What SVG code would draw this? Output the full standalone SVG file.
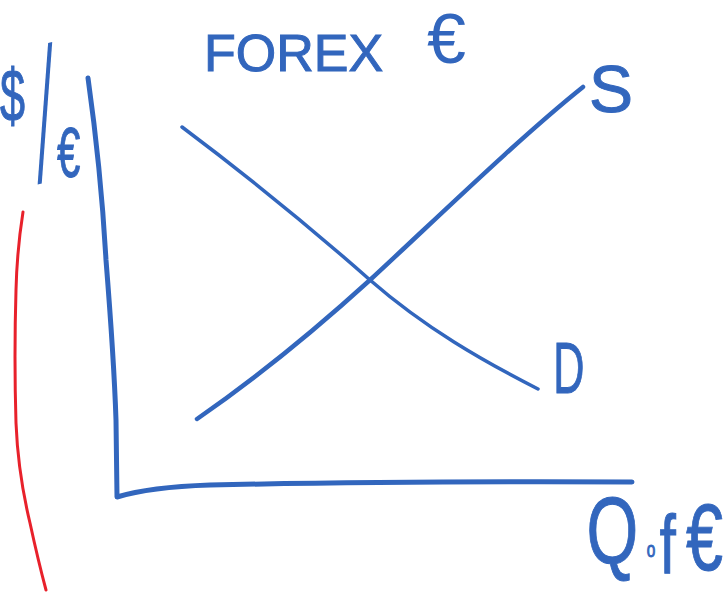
<svg xmlns="http://www.w3.org/2000/svg" width="726" height="592" viewBox="0 0 726 592">
<style>
.ink{fill:none;stroke:#3266bd;stroke-linecap:round;stroke-linejoin:round}
.red{fill:none;stroke:#e8212b;stroke-width:3;stroke-linecap:round}
.lbl{fill:#3266bd;stroke:#3266bd;stroke-width:1;font-family:"Liberation Sans",Arial,sans-serif}
</style>
<rect width="726" height="592" fill="#ffffff"/>
<g id="axes">
<path class="ink" stroke-width="5" d="M88,78 Q101,170 106,260 Q114,360 116,420 L117,497 Q150,487 210,485 Q400,481 632,482"/>
</g>
<g id="curves">
<path id="demand" class="ink" stroke-width="3.5" d="M182,127 C242,172 310,227 370,280 C425,328 483,361 538,389"/>
<path id="supply" class="ink" stroke-width="4.5" d="M197,419 C252,381 315,330 370,280 C435,220 518,139 583,87"/>
</g>
<path id="red-mark" class="red" d="M23,212 Q17,250 16,290 Q14,357 16,423 Q18,473 30,523 Q38,560 46,590"/>
<g id="title">
<text class="lbl" x="204" y="71" font-size="52">FOREX <tspan x="427" y="63" font-size="70" stroke-width="0">€</tspan></text>
</g>
<g id="y-label">
<text class="lbl" transform="scale(0.6,1)" stroke-width="2"><tspan x="0" y="121" font-size="75">$</tspan><tspan x="56" y="168" font-size="158" rotate="-8" font-family="Inter, Roboto, 'Open Sans', sans-serif" font-weight="200" stroke-width="0">/</tspan><tspan x="95" y="177" font-size="70">€</tspan></text>
</g>
<g id="supply-label">
<text class="lbl" x="589" y="112" font-size="66">S</text>
</g>
<g id="demand-label">
<text class="lbl" transform="scale(0.6,1)" x="922" y="393" font-size="72" stroke-width="2">D</text>
</g>
<g id="x-label">
<text class="lbl" transform="scale(0.7,1)" stroke-width="1.6"><tspan x="838" y="563" font-size="95">Q</tspan><tspan x="924" y="557" font-size="22">o</tspan><tspan x="942" y="574" font-size="84">f</tspan><tspan x="980" y="570" font-size="95">€</tspan></text>
</g>
</svg>
